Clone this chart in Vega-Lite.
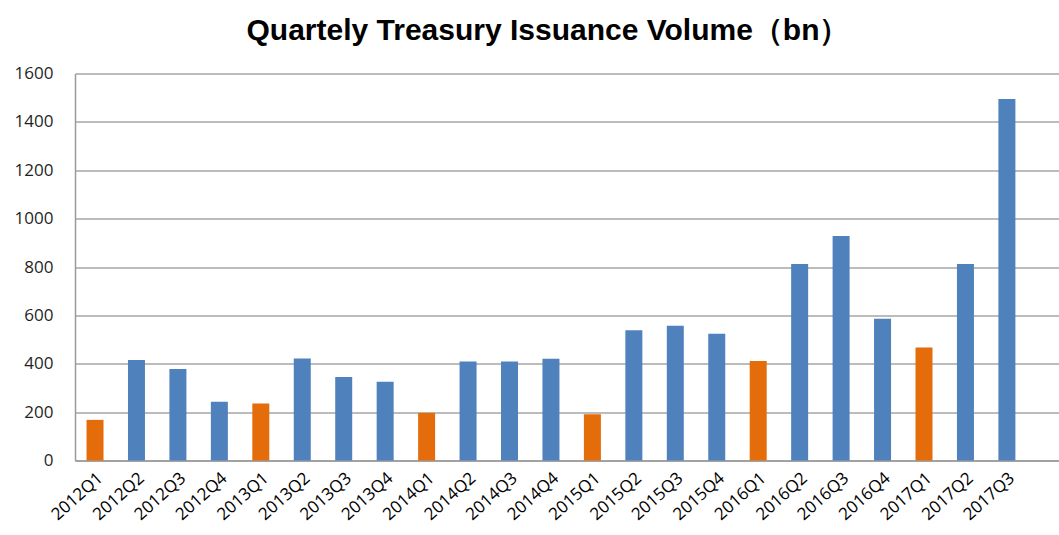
{
  "$schema": "https://vega.github.io/schema/vega-lite/v6.json",
  "width": 984,
  "height": 387,
  "autosize": {"type": "none"},
  "padding": {"left": 75, "top": 73.5, "right": 0, "bottom": 74.5},
  "background": "white",
  "title": {
    "text": "Quartely Treasury Issuance Volume（bn）",
    "font": "Liberation Sans",
    "fontSize": 30,
    "fontWeight": "bold",
    "color": "#000000",
    "anchor": "middle",
    "dx": -19,
    "offset": 19
  },
  "data": {
    "values": [
      {"quarter": "2012Q1", "value": 168, "kind": "Q1"},
      {"quarter": "2012Q2", "value": 415, "kind": "Other"},
      {"quarter": "2012Q3", "value": 378, "kind": "Other"},
      {"quarter": "2012Q4", "value": 243, "kind": "Other"},
      {"quarter": "2013Q1", "value": 236, "kind": "Q1"},
      {"quarter": "2013Q2", "value": 422, "kind": "Other"},
      {"quarter": "2013Q3", "value": 345, "kind": "Other"},
      {"quarter": "2013Q4", "value": 326, "kind": "Other"},
      {"quarter": "2014Q1", "value": 197, "kind": "Q1"},
      {"quarter": "2014Q2", "value": 409, "kind": "Other"},
      {"quarter": "2014Q3", "value": 409, "kind": "Other"},
      {"quarter": "2014Q4", "value": 421, "kind": "Other"},
      {"quarter": "2015Q1", "value": 191, "kind": "Q1"},
      {"quarter": "2015Q2", "value": 538, "kind": "Other"},
      {"quarter": "2015Q3", "value": 557, "kind": "Other"},
      {"quarter": "2015Q4", "value": 524, "kind": "Other"},
      {"quarter": "2016Q1", "value": 411, "kind": "Q1"},
      {"quarter": "2016Q2", "value": 812, "kind": "Other"},
      {"quarter": "2016Q3", "value": 928, "kind": "Other"},
      {"quarter": "2016Q4", "value": 586, "kind": "Other"},
      {"quarter": "2017Q1", "value": 467, "kind": "Q1"},
      {"quarter": "2017Q2", "value": 812, "kind": "Other"},
      {"quarter": "2017Q3", "value": 1495, "kind": "Other"}
    ]
  },
  "mark": {"type": "bar"},
  "encoding": {
    "x": {
      "field": "quarter",
      "type": "ordinal",
      "sort": null,
      "scale": {"paddingInner": 0.59, "paddingOuter": 0.665, "align": 0.209, "round": false},
      "axis": {
        "title": null,
        "labelAngle": -42,
        "labelFont": "Open Sans",
        "labelFontSize": 17,
        "labelColor": "#000000",
        "labelPadding": 9,
        "ticks": false,
        "domain": true,
        "domainColor": "#9A9A9A",
        "domainWidth": 1.5,
        "grid": false
      }
    },
    "y": {
      "field": "value",
      "type": "quantitative",
      "scale": {"domain": [0, 1600], "nice": false, "zero": true},
      "axis": {
        "title": null,
        "format": "d",
        "values": [0, 200, 400, 600, 800, 1000, 1200, 1400, 1600],
        "grid": true,
        "gridColor": "#A6A6A6",
        "gridWidth": 1.5,
        "domain": true,
        "domainColor": "#9A9A9A",
        "domainWidth": 1.5,
        "ticks": false,
        "labelFont": "Open Sans",
        "labelFontSize": 17,
        "labelColor": "#1F1F1F",
        "labelPadding": 22
      }
    },
    "color": {
      "field": "kind",
      "type": "nominal",
      "scale": {"domain": ["Q1", "Other"], "range": ["#E46C0A", "#4F81BD"]},
      "legend": null
    }
  },
  "config": {
    "view": {"stroke": null}
  }
}
